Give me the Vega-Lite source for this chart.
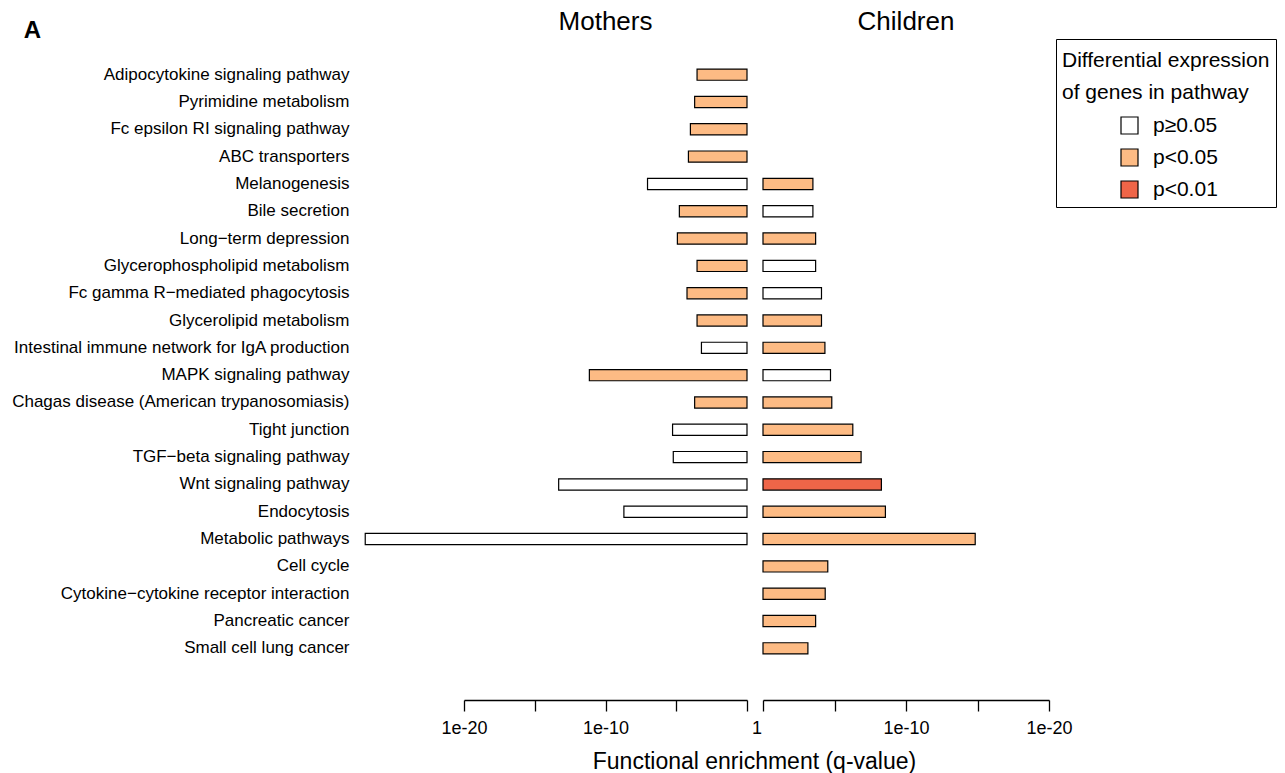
{
  "$schema": "https://vega.github.io/schema/vega-lite/v6.json",
  "background": "white",
  "padding": {"left": 11, "top": 9, "right": 0, "bottom": 0},
  "bounds": "flush",
  "title": {"text": "A", "anchor": "start", "frame": "bounds", "fontSize": 24, "fontWeight": "bold", "font": "Liberation Sans", "color": "black", "offset": -34, "dx": 12},
  "datasets": {
    "mothers": [
      {"pathway": "Adipocytokine signaling pathway", "value": 3.53, "sig": "p<0.05"},
      {"pathway": "Pyrimidine metabolism", "value": 3.70, "sig": "p<0.05"},
      {"pathway": "Fc epsilon RI signaling pathway", "value": 4.00, "sig": "p<0.05"},
      {"pathway": "ABC transporters", "value": 4.14, "sig": "p<0.05"},
      {"pathway": "Melanogenesis", "value": 7.03, "sig": "p≥0.05"},
      {"pathway": "Bile secretion", "value": 4.78, "sig": "p<0.05"},
      {"pathway": "Long−term depression", "value": 4.92, "sig": "p<0.05"},
      {"pathway": "Glycerophospholipid metabolism", "value": 3.53, "sig": "p<0.05"},
      {"pathway": "Fc gamma R−mediated phagocytosis", "value": 4.24, "sig": "p<0.05"},
      {"pathway": "Glycerolipid metabolism", "value": 3.53, "sig": "p<0.05"},
      {"pathway": "Intestinal immune network for IgA production", "value": 3.22, "sig": "p≥0.05"},
      {"pathway": "MAPK signaling pathway", "value": 11.14, "sig": "p<0.05"},
      {"pathway": "Chagas disease (American trypanosomiasis)", "value": 3.70, "sig": "p<0.05"},
      {"pathway": "Tight junction", "value": 5.26, "sig": "p≥0.05"},
      {"pathway": "TGF−beta signaling pathway", "value": 5.21, "sig": "p≥0.05"},
      {"pathway": "Wnt signaling pathway", "value": 13.31, "sig": "p≥0.05"},
      {"pathway": "Endocytosis", "value": 8.70, "sig": "p≥0.05"},
      {"pathway": "Metabolic pathways", "value": 26.98, "sig": "p≥0.05"}
    ],
    "children": [
      {"pathway": "Melanogenesis", "value": 3.49, "sig": "p<0.05"},
      {"pathway": "Bile secretion", "value": 3.49, "sig": "p≥0.05"},
      {"pathway": "Long−term depression", "value": 3.68, "sig": "p<0.05"},
      {"pathway": "Glycerophospholipid metabolism", "value": 3.68, "sig": "p≥0.05"},
      {"pathway": "Fc gamma R−mediated phagocytosis", "value": 4.09, "sig": "p≥0.05"},
      {"pathway": "Glycerolipid metabolism", "value": 4.09, "sig": "p<0.05"},
      {"pathway": "Intestinal immune network for IgA production", "value": 4.33, "sig": "p<0.05"},
      {"pathway": "MAPK signaling pathway", "value": 4.72, "sig": "p≥0.05"},
      {"pathway": "Chagas disease (American trypanosomiasis)", "value": 4.81, "sig": "p<0.05"},
      {"pathway": "Tight junction", "value": 6.28, "sig": "p<0.05"},
      {"pathway": "TGF−beta signaling pathway", "value": 6.86, "sig": "p<0.05"},
      {"pathway": "Wnt signaling pathway", "value": 8.28, "sig": "p<0.01"},
      {"pathway": "Endocytosis", "value": 8.56, "sig": "p<0.05"},
      {"pathway": "Metabolic pathways", "value": 14.84, "sig": "p<0.05"},
      {"pathway": "Cell cycle", "value": 4.53, "sig": "p<0.05"},
      {"pathway": "Cytokine−cytokine receptor interaction", "value": 4.35, "sig": "p<0.05"},
      {"pathway": "Pancreatic cancer", "value": 3.68, "sig": "p<0.05"},
      {"pathway": "Small cell lung cancer", "value": 3.14, "sig": "p<0.05"}
    ]
  },
  "spacing": 16,
  "hconcat": [
    {
      "width": 283,
      "height": 601,
      "title": {"text": "Mothers", "fontSize": 26, "fontWeight": "normal", "anchor": "middle", "offset": 26, "color": "black"},
      "data": {"name": "mothers"},
      "mark": {"type": "bar", "stroke": "black", "strokeWidth": 1.2},
      "encoding": {
        "y": {
          "field": "pathway", "type": "nominal",
          "scale": {"domain": ["Adipocytokine signaling pathway", "Pyrimidine metabolism", "Fc epsilon RI signaling pathway", "ABC transporters", "Melanogenesis", "Bile secretion", "Long−term depression", "Glycerophospholipid metabolism", "Fc gamma R−mediated phagocytosis", "Glycerolipid metabolism", "Intestinal immune network for IgA production", "MAPK signaling pathway", "Chagas disease (American trypanosomiasis)", "Tight junction", "TGF−beta signaling pathway", "Wnt signaling pathway", "Endocytosis", "Metabolic pathways", "Cell cycle", "Cytokine−cytokine receptor interaction", "Pancreatic cancer", "Small cell lung cancer"], "paddingInner": 0.59, "paddingOuter": 0.295},
          "axis": {"title": null, "ticks": false, "domain": false, "labelPadding": 115, "labelFontSize": 17, "labelColor": "black", "labelLimit": 0}
        },
        "x": {
          "field": "value", "type": "quantitative",
          "scale": {"domain": [0, 20], "reverse": true, "nice": false},
          "axis": {
            "values": [0, 5, 10, 15, 20],
            "labelExpr": "datum.value == 20 ? '1e-20' : datum.value == 10 ? '1e-10' : datum.value == 0 ? '1' : ''",
            "labelOffset": {"condition": {"test": "datum.value == 0", "value": 9.5}, "value": 0},
            "grid": false, "offset": 38, "tickSize": 11, "tickWidth": 1.3, "tickColor": "black",
            "domainColor": "black", "domainWidth": 1.3, "labelFontSize": 18, "labelColor": "black",
            "labelPadding": 8, "labelFlush": false, "labelOverlap": false,
            "title": "Functional enrichment (q-value)", "titleFontSize": 23, "titleFontWeight": "normal", "titleColor": "black",
            "titleX": 290, "titleY": 68, "titleBaseline": "alphabetic", "titleAlign": "center"
          }
        },
        "fill": {
          "field": "sig", "type": "nominal",
          "scale": {"domain": ["p≥0.05", "p<0.05", "p<0.01"], "range": ["#FFFFFF", "#FDBB84", "#EF6548"]},
          "legend": {
            "title": ["Differential expression", "of genes in pathway"],
            "orient": "none", "legendX": 592, "legendY": -22,
            "padding": 6, "strokeColor": "black", "fillColor": "white",
            "titleFontSize": 21, "titleFontWeight": "normal", "titleColor": "black", "titleLineHeight": 32, "titleBaseline": "line-top", "titlePadding": 17, "titleLimit": 0,
            "labelFontSize": 21, "labelColor": "black", "labelOffset": 13, "labelLimit": 0,
            "symbolType": "square", "symbolSize": 289, "symbolStrokeColor": "black", "symbolStrokeWidth": 1.2, "symbolOffset": 57,
            "rowPadding": 9
          }
        }
      }
    },
    {
      "width": 286,
      "height": 601,
      "title": {"text": "Children", "fontSize": 26, "fontWeight": "normal", "anchor": "middle", "offset": 26, "color": "black"},
      "data": {"name": "children"},
      "mark": {"type": "bar", "stroke": "black", "strokeWidth": 1.2},
      "encoding": {
        "y": {
          "field": "pathway", "type": "nominal",
          "scale": {"domain": ["Adipocytokine signaling pathway", "Pyrimidine metabolism", "Fc epsilon RI signaling pathway", "ABC transporters", "Melanogenesis", "Bile secretion", "Long−term depression", "Glycerophospholipid metabolism", "Fc gamma R−mediated phagocytosis", "Glycerolipid metabolism", "Intestinal immune network for IgA production", "MAPK signaling pathway", "Chagas disease (American trypanosomiasis)", "Tight junction", "TGF−beta signaling pathway", "Wnt signaling pathway", "Endocytosis", "Metabolic pathways", "Cell cycle", "Cytokine−cytokine receptor interaction", "Pancreatic cancer", "Small cell lung cancer"], "paddingInner": 0.59, "paddingOuter": 0.295},
          "axis": null
        },
        "x": {
          "field": "value", "type": "quantitative",
          "scale": {"domain": [0, 20], "nice": false},
          "axis": {
            "values": [0, 5, 10, 15, 20],
            "labelExpr": "datum.value == 20 ? '1e-20' : datum.value == 10 ? '1e-10' : ''",
            "grid": false, "offset": 38, "tickSize": 11, "tickWidth": 1.3, "tickColor": "black",
            "domainColor": "black", "domainWidth": 1.3, "labelFontSize": 18, "labelColor": "black",
            "labelPadding": 8, "labelFlush": false, "labelOverlap": false, "title": null
          }
        },
        "fill": {
          "field": "sig", "type": "nominal",
          "scale": {"domain": ["p≥0.05", "p<0.05", "p<0.01"], "range": ["#FFFFFF", "#FDBB84", "#EF6548"]},
          "legend": {
            "title": ["Differential expression", "of genes in pathway"],
            "orient": "none", "legendX": 592, "legendY": -22,
            "padding": 6, "strokeColor": "black", "fillColor": "white",
            "titleFontSize": 21, "titleFontWeight": "normal", "titleColor": "black", "titleLineHeight": 32, "titleBaseline": "line-top", "titlePadding": 17, "titleLimit": 0,
            "labelFontSize": 21, "labelColor": "black", "labelOffset": 13, "labelLimit": 0,
            "symbolType": "square", "symbolSize": 289, "symbolStrokeColor": "black", "symbolStrokeWidth": 1.2, "symbolOffset": 57,
            "rowPadding": 9
          }
        }
      }
    }
  ],
  "resolve": {"scale": {"y": "independent", "fill": "shared"}, "legend": {"fill": "shared"}},
  "config": {
    "view": {"stroke": null},
    "font": "Liberation Sans",
    "axis": {"labelFont": "Liberation Sans", "titleFont": "Liberation Sans"},
    "legend": {"labelFont": "Liberation Sans", "titleFont": "Liberation Sans"},
    "title": {"font": "Liberation Sans"}
  }
}
